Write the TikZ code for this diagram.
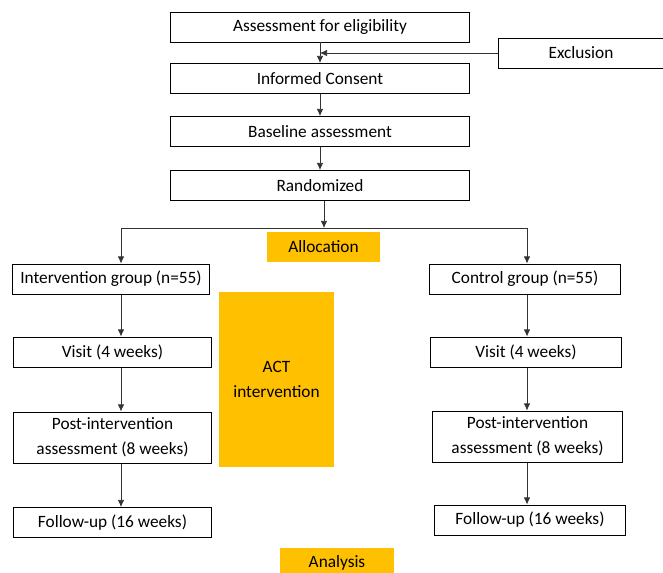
\documentclass[tikz,border=0pt]{standalone}
\usepackage{fontspec}
\setmainfont{Carlito}
\usetikzlibrary{arrows.meta}
\definecolor{stageorange}{HTML}{FFC000}
\newcommand\colorStage{stageorange}
\newcommand\colorLink{black!80}
\newcommand\colLeft{121}
\newcommand\colRight{527}
\tikzset{
  stepbox/.style={draw=black, line width=0.7pt, inner sep=0pt, align=center,
    minimum height=0.75cm, font=\fontsize{12.3}{17.5}\selectfont},
  stagebox/.style={fill=\colorStage, inner sep=0pt, align=center,
    minimum height=0.75cm, font=\fontsize{12.3}{17.5}\selectfont},
  link/.style={draw=\colorLink, line width=0.5pt},
  arrowlink/.style={link, -{Latex[length=5pt,width=4.5pt]}},
}
\begin{document}
\begin{tikzpicture}[x=0.025cm, y=-0.025cm]
	\useasboundingbox (0,0) rectangle (663,572);

	\node[stepbox, minimum width=7.45cm] (elig) at (320,27) {Assessment for eligibility};
	\node[stepbox, minimum width=4.1cm] (excl) at (581,53) {Exclusion};
	\node[stepbox, minimum width=7.45cm] (consent) at (320,78.5) {Informed Consent};
	\node[stepbox, minimum width=7.45cm] (baseline) at (320,131.5) {Baseline assessment};
	\node[stepbox, minimum width=7.45cm] (random) at (320,185.5) {Randomized};

	\node[stagebox, minimum width=2.825cm] (alloc) at (323.5,247) {Allocation};

	\node[stepbox, minimum width=4.9cm] (intvGroup) at (111,279) {Intervention group (n=55)};
	\node[stepbox, minimum width=4.925cm] (intvVisit) at (112.5,352) {Visit (4 weeks)};
	\node[stepbox, minimum width=4.925cm, minimum height=1.275cm] (intvPost) at (112.5,437.5) {Post-intervention\\assessment (8 weeks)};
	\node[stepbox, minimum width=4.925cm] (intvFollow) at (112.5,522.5) {Follow-up (16 weeks)};

	\node[stagebox, minimum width=2.875cm, minimum height=4.375cm] (act) at (276.5,379.5) {ACT\\intervention};

	\node[stepbox, minimum width=4.75cm] (ctrlGroup) at (525,279) {Control group (n=55)};
	\node[stepbox, minimum width=4.75cm] (ctrlVisit) at (526,352) {Visit (4 weeks)};
	\node[stepbox, minimum width=4.725cm, minimum height=1.275cm] (ctrlPost) at (527.5,436.5) {Post-intervention\\assessment (8 weeks)};
	\node[stepbox, minimum width=4.75cm] (ctrlFollow) at (530,520) {Follow-up (16 weeks)};

	\node[stagebox, minimum width=2.85cm] (analysis) at (337,563) {Analysis};

	\coordinate (split) at (324,228);
	\coordinate (splitL) at (\colLeft,228);
	\coordinate (splitR) at (\colRight,228);

	\draw[arrowlink] (elig) to (consent);
	\draw[arrowlink] (excl.west) to (excl.west -| elig.south);
	\draw[arrowlink] (consent) to (baseline);
	\draw[arrowlink] (baseline) to (random);
	\draw[arrowlink] (random.south -| split) to (split);
	\draw[link] (splitL) to (splitR);
	\draw[arrowlink] (splitL) to (splitL |- intvGroup.north);
	\draw[arrowlink] (splitR) to (splitR |- ctrlGroup.north);

	\draw[arrowlink] (intvGroup.south -| splitL) to (intvVisit.north -| splitL);
	\draw[arrowlink] (intvVisit.south -| splitL) to (intvPost.north -| splitL);
	\draw[arrowlink] (intvPost.south -| splitL) to (intvFollow.north -| splitL);

	\draw[arrowlink] (ctrlGroup.south -| splitR) to (ctrlVisit.north -| splitR);
	\draw[arrowlink] (ctrlVisit.south -| splitR) to (ctrlPost.north -| splitR);
	\draw[arrowlink] (ctrlPost.south -| splitR) to (ctrlFollow.north -| splitR);
\end{tikzpicture}
\end{document}
